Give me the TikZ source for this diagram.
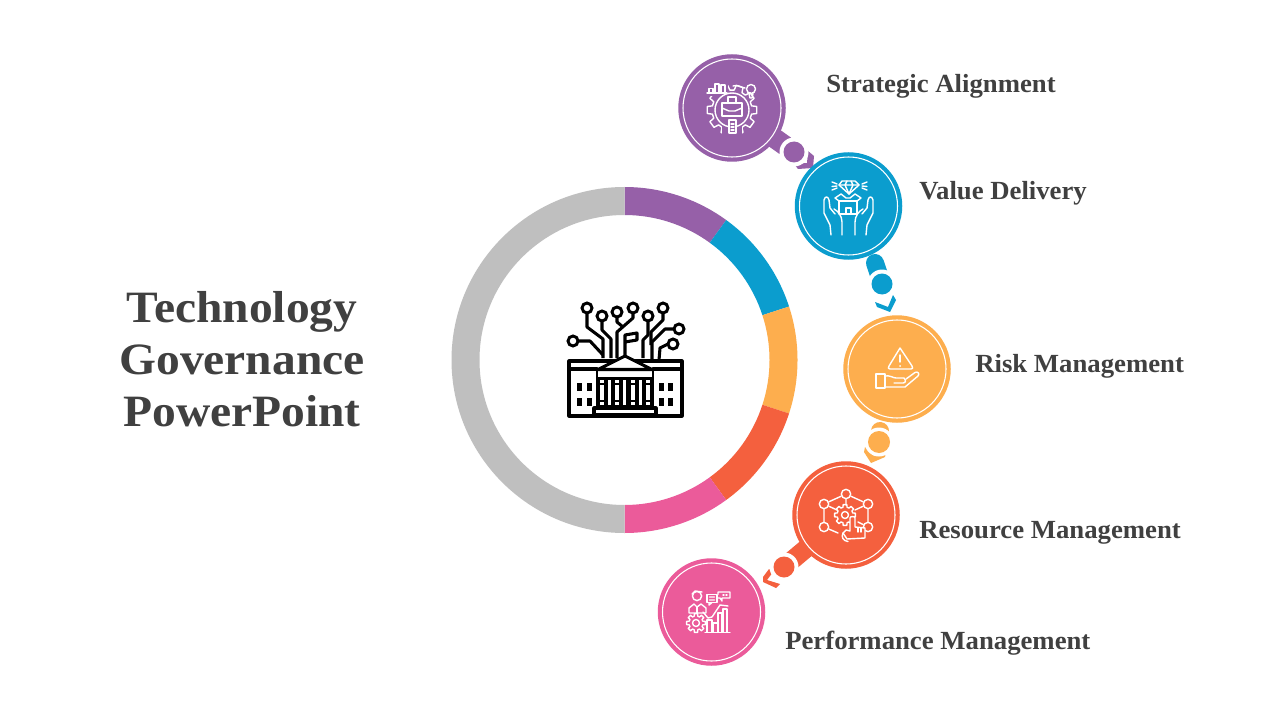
\documentclass[tikz,border=0pt]{standalone}
\usepackage{fontspec}
\setmainfont{Liberation Serif}[FakeStretch=1.06]
\newfontfamily\labelfont{Liberation Serif}[FakeStretch=1.023]
\definecolor{cpurple}{HTML}{9660A8}
\definecolor{cblue}{HTML}{0B9DCE}
\definecolor{corange}{HTML}{FDAE4E}
\definecolor{cred}{HTML}{F4603E}
\definecolor{cpink}{HTML}{EB5B9A}
\definecolor{cgrey}{HTML}{BFBFBF}
\definecolor{ctext}{HTML}{404040}
\tikzset{
  disc/.style={circle,fill=#1,minimum size=107.5*0.75pt,inner sep=0pt,outer sep=0pt},
  innerring/.style={circle,draw=white,line width=0.8pt,minimum size=98*0.75pt,inner sep=0pt},
  dotnode/.style={circle,fill=#1,minimum size=21*0.75pt,inner sep=0pt},
  gapring/.style={circle,fill=white,minimum size=29*0.75pt,inner sep=0pt},
  label/.style={anchor=base west,text=ctext,font=\labelfont\bfseries\fontsize{19.6}{22}\selectfont,inner sep=0pt},
  ic/.style={draw=white,line width=1.05pt,line join=round,line cap=round},
  bk/.style={draw=black,line width=2.3pt,line join=round,line cap=round},
  pt/.style={circle,draw=white,line width=1.05pt,inner sep=0pt,minimum size=7pt},
  bkpt/.style={circle,draw=black,fill=white,line width=2.2pt,inner sep=0pt,minimum size=7.5pt},
}
\newcommand{\gearicon}[5]{% x y inner outer teeth
  \begin{scope}[shift={(#1,#2)}]
    \pgfmathsetmacro{\stp}{360/#5}
    \pgfmathsetmacro{\hw}{\stp/4.5}
    \pgfmathsetmacro{\lst}{#5-1}
    \draw[ic] ({-\hw*1.5}:#3) \foreach \i in {0,...,\lst}{
      -- ({\i*\stp-\hw*1.5}:#3) -- ({\i*\stp-\hw}:#4) -- ({\i*\stp+\hw}:#4) -- ({\i*\stp+\hw*1.5}:#3)
    } -- cycle;
  \end{scope}}
\begin{document}
\begin{tikzpicture}[x=0.75pt,y=-0.75pt]
\useasboundingbox[fill=white] (0,0) rectangle (1280,720);
% ring
\coordinate (hub) at (624.5,360);
\foreach \s/\e/\c in {-90/-54/cpurple,-54/-18/cblue,-18/18/corange,18/54/cred,54/90/cpink,90/270/cgrey}{
  \fill[\c] (hub) ++(\s:173) arc[start angle=\s,end angle=\e,radius=173]
     -- ++(\e:-28) arc[start angle=\e,end angle=\s,radius=145] -- cycle;
}
% title
\node[align=center,text=ctext,font=\bfseries\fontsize{33.6}{39}\selectfont,inner sep=0pt] (title) at (242,359) {Technology\\Governance\\PowerPoint};
% connector anchors
\node[dotnode=cpurple] (d1) at (794,152) {};
\coordinate (c1) at (732,108);
\coordinate (c2) at (848.5,206);
\coordinate (c3) at (897,369);
\coordinate (c4) at (846,515);
\coordinate (c5) at (711.5,612);
\coordinate (s2) at (875,263);
\coordinate (s3) at (880,431);
\coordinate (d2c) at (882,284);
\coordinate (d3c) at (879,442);
\coordinate (d4c) at (784,567);
% chevrons
\fill[cpurple] (808,151)--(814,156)--(813,168)--(798,169)--(794,164)--(807,163)--cycle;
\fill[cblue] (893,295)--(896,300)--(890,312)--(877,307)--(875,302)--(888,307)--cycle;
\fill[corange] (865,447)--(864,452)--(871,463)--(885,457)--(886,451)--(874,456)--cycle;
\fill[cred] (769,569)--(773,572)--(767,580)--(780,584)--(776,588)--(763,582)--(763,577)--cycle;
% stubs
\draw[cpurple,line width=15pt] (c1) -- (d1);
\draw[cblue,line width=13.5pt,line cap=round] (s2) -- (d2c);
\draw[corange,line width=13.5pt,line cap=round] (s3) -- (d3c);
\draw[cred,line width=14pt] (c4) -- (d4c);
% gaps and dots
\node[gapring] at (d1) {};
\node[gapring] at (d2c) {};
\node[gapring] at (d3c) {};
\node[gapring] at (d4c) {};
\node[dotnode=cpurple] (dd1) at (d1) {};
\node[dotnode=cblue] (d2) at (d2c) {};
\node[dotnode=corange,minimum width=19*0.75pt,minimum height=22*0.75pt] (d3) at (d3c) {};
\node[dotnode=cred] (d4) at (d4c) {};
% discs
\foreach \n/\c in {1/cpurple,2/cblue,3/corange,4/cred,5/cpink}{
  \node[disc=\c] (n\n) at (c\n) {};
  \node[innerring] (r\n) at (c\n) {};
}
% labels
\node[label] (l1) at (826,93) {Strategic Alignment};
\node[label] (l2) at (919,200) {Value Delivery};
\node[label] (l3) at (975,372) {Risk Management};
\node[label] (l4) at (919,538) {Resource Management};
\node[label] (l5) at (785,649) {Performance Management};
% ---- central icon
\draw[bk] (569,361) rectangle (682,416);
\draw[bk] (569,369) -- (597,369) (653,369) -- (682,369);
\fill[black] (596,377) rectangle (654,409);
\foreach \x in {600,615.2,631,646}{
  \fill[white] (\x,379.5) rectangle ++(4,3);
  \fill[white] (\x,385) rectangle ++(4,14.5);
  \fill[white] (\x,401.5) rectangle ++(4,3.5);
}
\foreach \x in {607.6,622.8,638.6}{
  \fill[white] (\x,379.5) rectangle ++(3.2,25.5);
}
\fill[white] (598,370) rectangle (652,376);
\draw[black,line width=1.6pt] (596.8,368) -- (596.8,380) (653.2,368) -- (653.2,380);
\draw[bk,fill=white] (598,369.5) -- (625,356) -- (652,369.5) -- cycle;
\draw[bk,fill=white] (594,408) rectangle (656,415);
\foreach \x in {577,587,659,668}{
  \fill[black] (\x,383) rectangle ++(5,8);
  \fill[black] (\x,398) rectangle ++(5,8);
}
\draw[bk,line cap=butt] (587,313)--(587,327)--(603,339)--(603,358);
\draw[bk,line cap=butt] (602,321)--(602,330)--(611,339)--(611,358);
\draw[bk,line cap=butt] (578,341)--(590,341)--(603,355);
\draw[bk,line cap=butt] (617,317)--(617,322)--(623,327);
\draw[bk,line cap=butt] (633,313)--(633,318)--(617,332)--(617,358);
\draw[bk,line cap=butt] (625,355)--(625,335)--(637,333)--(637,340)--(625,342);
\draw[bk,line cap=butt] (648,321)--(648,335)--(643,340)--(643,358);
\draw[bk,line cap=butt] (663,313)--(663,320)--(651,332)--(651,345);
\draw[bk,line cap=butt] (674,329)--(665,329)--(652,342)--(652,360);
\draw[bk,line cap=butt] (668,344)--(660,348)--(659,360);
\foreach \x/\y/\i in {587/308/a,602/316/b,573/341/c,617/312/d,633/308/e,648/316/f,663/308/g,679/329/h,673/344/i}{
  \node[bkpt] (t\i) at (\x,\y) {};
}
% ---- strategic alignment icon
\gearicon{732}{110}{20}{25}{10}
\fill[cpurple] (704,84) rectangle (728,96);
\fill[cpurple] (722,118) rectangle (742,136);
\draw[ic,fill=cpurple] (732,110) circle[radius=17];
\draw[ic] (728,103) -- (728,97) -- (736,97) -- (736,103);
\draw[ic] (722,103) rectangle (742,116);
\draw[ic] (722,108) -- (729,111) -- (735,111) -- (742,108);
\draw[ic,fill=cpurple] (729,120) rectangle (736,133);
\draw[ic] (731,124)--(734,124) (731,127)--(734,127) (731,130)--(734,130);
\draw[ic] (709,93) -- (709,88.5) -- (713,88.5) -- (713,93) (715,93) -- (715,84) -- (719,84) -- (719,93) (721,93) -- (721,85) -- (725,85) -- (725,93);
\draw[ic] (707,93) -- (727,93);
\draw[ic] (751,89) circle[radius=4.5];
\draw[ic] (749,93.5)--(750,98)--(752,98)--(753,93.5);
\draw[ic] (733,86) .. controls (738,84) and (741,88) .. (745,88);
% ---- value delivery icon
\draw[ic] (842,181)--(855,181)--(859,185)--(849,194)--(839,185)--cycle;
\draw[ic] (839,185)--(859,185) (845,185)--(849,194)--(853,185) (845,185)--(847,181) (853,185)--(851,181);
\draw[ic] (832,182)--(837,184) (832,186.5)--(837,186) (832,190)--(837,188);
\draw[ic] (867,182)--(862,184) (867,186.5)--(862,186) (867,190)--(862,188);
\draw[ic] (839,201) rectangle (857,214);
\draw[ic] (839,201)--(835,198)--(841,194)--(846,198)--(850,198)--(855,194)--(861,198)--(857,201);
\draw[ic] (846,214)--(846,208)--(851,208)--(851,214);
\draw[ic] (831,235)--(830,225)--(824,213)--(824,200) .. controls (825,196) and (828,196) .. (829,200) -- (830,208) -- (835,214);
\draw[ic] (834,209) .. controls (838,211) and (842,216) .. (842,222) -- (842,235);
\draw[ic] (866,235)--(867,225)--(873,213)--(873,200) .. controls (872,196) and (869,196) .. (868,200) -- (867,208) -- (862,214);
\draw[ic] (863,209) .. controls (859,211) and (855,216) .. (855,222) -- (855,235);
% ---- risk icon
\draw[ic] (900,348)--(889,366) .. controls (888,368) and (888,369) .. (890,369) -- (911,369) .. controls (913,369) and (913,368) .. (912,366) -- cycle;
\draw[ic] (900,355)--(900,362);
\fill[white] (900,366) circle[radius=1];
\draw[ic] (876,374) rectangle (885,388);
\draw[ic] (885,376) .. controls (890,375) and (893,378) .. (896,378) -- (904,378) .. controls (906,380) and (906,383) .. (903,383) -- (894,383);
\draw[ic] (906,379) -- (915,372.5) .. controls (918,371) and (920,374) .. (918,376) -- (905,387) -- (885,387);
% ---- resource icon
\foreach \x/\y/\i in {846/494/a,824/504/b,868/504/c,824/527/d,868/527/e}{
  \node[pt] (h\i) at (\x,\y) {};
}
\draw[ic] (ha)--(hb) (ha)--(hc) (hb)--(hd) (hc)--(he) (ha)--(846,505) (hb)--(837,510) (hc)--(855,510);
\draw[ic] (hd)--(838,533) (he)--(858,522);
\gearicon{845}{515}{8}{10.5}{8}
\draw[ic] (845,515) circle[radius=3.5];
\draw[ic,fill=cred] (850,531)--(850,518) .. controls (850,516) and (855,516) .. (855,518) -- (855,527)--(865,528)--(865,538)--(847,539)--(843,533)--(846,530)--cycle;
\draw[ic] (858,528)--(858,532) (861,528)--(861,532);
\draw[ic] (843,533) .. controls (841,537) and (843,541) .. (848,541.5);
% ---- performance icon
\draw[ic] (697,596) circle[radius=4.6];
\draw[ic] (692,594) -- (695,591) -- (702,592);
\draw[ic] (689,613) -- (689,608) -- (694,604) -- (697,607) -- (701,604) -- (706,608) -- (706,613) -- cycle;
\draw[ic] (697,607) -- (697,613);
\draw[ic] (707,594.5) rectangle (717,602.5);
\draw[ic] (709,602.5)--(709,605)--(712,602.5) (709.5,597)--(714.5,597) (709.5,600)--(714.5,600);
\draw[ic] (717,598)--(720,598)--(722,601)--(722,598)--(730,598)--(730,592)--(718,592)--(718,594.5);
\draw[ic] (723,595)--(724,595) (726,595)--(727,595);
\gearicon{696}{623}{7}{9.5}{8}
\draw[ic] (696,623) circle[radius=3.5];
\draw[ic] (707,632)--(707,620)--(712,620)--(712,632) (713,632)--(713,623)--(718,623)--(718,632) (718,632)--(718,613)--(722,613)--(722,632) (723,632)--(723,609)--(727,609)--(727,632);
\draw[ic] (705,632.5)--(730,632.5);
\draw[ic] (703,612)--(708,618)--(712,617)--(720,605)--(728,606);
\end{tikzpicture}
\end{document}
